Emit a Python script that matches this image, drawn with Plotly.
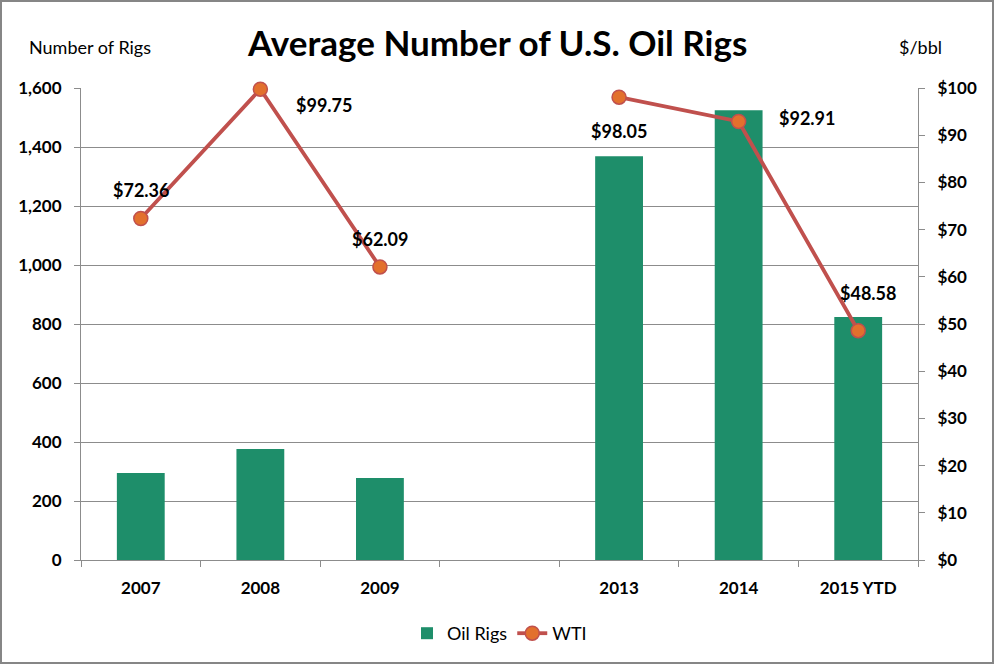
import plotly.graph_objects as go

categories = ["2007", "2008", "2009", "", "2013", "2014", "2015 YTD"]
oil_rigs = [295, 376, 278, None, 1369, 1525, 824]
wti = [72.36, 99.75, 62.09, None, 98.05, 92.91, 48.58]
label_shift = [(0, 28), (64, -16), (0, 28), (0, -34), (68, 3), (10, 38)]

W, H = 994, 664
ml, mr, mt, mb = 81, 76, 88, 104
pw, ph = W - ml - mr, H - mt - mb

FONT = "Lato"
GRID = "#8c8c8c"
TICK = 17

xpos = list(range(len(categories)))

fig = go.Figure()
fig.add_trace(go.Bar(
    x=xpos, y=oil_rigs, name="Oil Rigs",
    marker=dict(color="#1e8e6a", line=dict(width=0)), width=0.4,
))
fig.add_trace(go.Scatter(
    x=xpos, y=wti, name="WTI", yaxis="y2", mode="lines+markers",
    connectgaps=False, cliponaxis=False,
    line=dict(color="#c0504d", width=3.8),
    marker=dict(size=14, color="#e2702d", line=dict(color="#c0504d", width=1.5)),
))


def px_to_paper(px, py):
    return (px - ml) / pw, (H - py - mb) / ph


annotations = []
k = 0
for xp, v in zip(xpos, wti):
    if v is None:
        continue
    dx, dy = label_shift[k]
    k += 1
    annotations.append(dict(
        x=xp, y=v, xref="x", yref="y2", text=f"${v:.2f}", showarrow=False,
        xshift=dx, yshift=dy, font=dict(family=FONT, size=18, color="black", weight="bold"),
    ))

for text, (px, py), size, bold in [
    ("Average Number of U.S. Oil Rigs", (W / 2, 42), 35, True),
    ("Number of Rigs", (90, 47), 18, False),
    ("$/bbl", (921, 47), 18, False),
]:
    x, y = px_to_paper(px, py)
    annotations.append(dict(
        text=f"<b>{text}</b>" if bold else text, x=x, y=y, xref="paper", yref="paper",
        xanchor="center", yanchor="middle", showarrow=False,
        font=dict(family=FONT, size=size, color="black"),
    ))

bx0, by0 = px_to_paper(1, H - 1)
bx1, by1 = px_to_paper(W - 1, 1)
_, leg_y = px_to_paper(0, 615)

fig.update_layout(
    width=W, height=H,
    margin=dict(l=ml, r=mr, t=mt, b=mb, autoexpand=False),
    plot_bgcolor="white", paper_bgcolor="white",
    font=dict(family=FONT, color="black"),
    showlegend=True,
    legend=dict(orientation="h", x=0.5, xanchor="center", y=leg_y, yanchor="top",
                font=dict(family=FONT, size=18, color="black")),
    xaxis=dict(
        range=[-0.5, len(categories) - 0.5],
        tickmode="array", tickvals=xpos, ticktext=categories,
        showgrid=False, showline=True, linecolor=GRID, linewidth=1,
        ticks="", zeroline=False, ticklabelstandoff=13,
        minor=dict(tick0=-0.5, dtick=1, ticks="outside", ticklen=6, tickcolor=GRID, showgrid=False),
        tickfont=dict(family=FONT, size=TICK, color="black", weight="bold"),
        tickangle=0, automargin=False,
    ),
    yaxis=dict(
        range=[0, 1600], dtick=200, tickformat=",", showgrid=True, gridcolor=GRID,
        showline=True, linecolor=GRID, ticks="outside", ticklen=6, tickcolor=GRID,
        zeroline=False, automargin=False, ticklabelstandoff=9,
        tickfont=dict(family=FONT, size=TICK, color="black", weight="bold"),
    ),
    yaxis2=dict(
        range=[0, 100], dtick=10, tickprefix="$", overlaying="y", side="right",
        showgrid=False, showline=True, linecolor=GRID, ticks="outside", ticklen=6,
        tickcolor=GRID, zeroline=False, automargin=False, ticklabelstandoff=9,
        tickfont=dict(family=FONT, size=TICK, color="black", weight="bold"),
    ),
    annotations=annotations,
    shapes=[dict(
        type="rect", xref="paper", yref="paper",
        x0=bx0, x1=bx1, y0=by0, y1=by1,
        line=dict(color="#868686", width=2), fillcolor="rgba(0,0,0,0)", layer="above",
    )],
)

fig.write_html("out.html", config={"displayModeBar": False},
               post_script="document.body.style.margin='0';")
